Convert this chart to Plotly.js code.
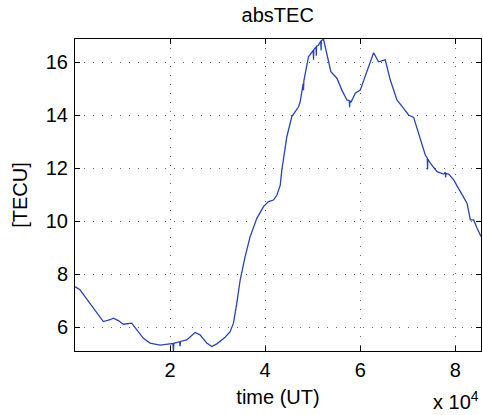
<!DOCTYPE html>
<html>
<head>
<meta charset="utf-8">
<script src="https://cdn.plot.ly/plotly-3.0.1.min.js"></script>
<style>html,body{margin:0;padding:0;background:#fff;}#chart{width:483px;height:415px;}</style>
</head>
<body>
<div id="chart"></div>
<script>
// time (UT) in seconds
const timeUT = [0, 1050, 2100, 3160, 4560, 5960, 7370, 8070, 9120, 10170, 11930, 12980, 14390, 15790, 17890, 20000, 20600, 20700, 20800, 22000, 22100, 22200, 23500, 25260, 26300, 27720, 28770, 29820, 31580, 32630, 33330, 34040, 34740, 35790, 36840, 38250, 39650, 40700, 41750, 42500, 43160, 43510, 44560, 45610, 47020, 47370, 48000, 48070, 48140, 49120, 50100, 50170, 50240, 50700, 50760, 50820, 51230, 51700, 51760, 51820, 52280, 52980, 53820, 55090, 56140, 57190, 57700, 57760, 57820, 58040, 58950, 60000, 61400, 62810, 63860, 65260, 66320, 67720, 69120, 70170, 71230, 72280, 73680, 74100, 74160, 74220, 74740, 76140, 77540, 77900, 77960, 78020, 78600, 79650, 81050, 82110, 82460, 83160, 83860, 84560, 85400];
// absolute TEC [TECU]
const absTEC = [7.53, 7.41, 7.15, 6.90, 6.53, 6.21, 6.28, 6.34, 6.25, 6.11, 6.15, 5.90, 5.58, 5.40, 5.32, 5.37, 5.38, 5.10, 5.39, 5.45, 5.28, 5.46, 5.52, 5.80, 5.71, 5.40, 5.27, 5.37, 5.62, 5.83, 6.15, 6.91, 7.78, 8.66, 9.42, 10.11, 10.55, 10.74, 10.80, 11.00, 11.35, 11.94, 13.19, 13.95, 14.32, 14.51, 15.20, 14.95, 15.30, 16.21, 16.45, 16.10, 16.48, 16.58, 16.25, 16.60, 16.65, 16.80, 16.45, 16.82, 16.87, 16.34, 15.65, 15.40, 14.95, 14.58, 14.55, 14.30, 14.56, 14.48, 14.83, 14.95, 15.65, 16.36, 16.02, 16.09, 15.33, 14.58, 14.26, 14.01, 13.92, 13.32, 12.50, 12.38, 11.95, 12.35, 12.19, 11.87, 11.78, 11.85, 11.65, 11.80, 11.78, 11.56, 11.12, 10.80, 10.68, 10.05, 10.05, 9.74, 9.42];

const xTickVals = [20000, 40000, 60000, 80000];
const xTickText = ['2', '4', '6', '8'];
const yTickVals = [6, 8, 10, 12, 14, 16];

const FAM = 'Liberation Sans, Arial, Helvetica, sans-serif';
const FS = 20;
const font = {family: FAM, color: '#000', size: FS};

const trace = {
  x: timeUT, y: absTEC, type: 'scatter', mode: 'lines',
  line: {color: '#2a43b0', width: 1.3}, hoverinfo: 'skip'
};

const layout = {
  width: 483, height: 415,
  margin: {l: 75, r: 2, t: 39, b: 64},
  paper_bgcolor: '#fff', plot_bgcolor: '#fff',
  font: font,
  showlegend: false,
  title: {text: 'absTEC', font: {family: FAM, size: FS, color: '#000'}, x: 0.575, xanchor: 'center', y: 0.963, yanchor: 'middle'},
  xaxis: {
    range: [0, 85400], tickvals: xTickVals, ticktext: xTickText,
    ticks: 'inside', ticklen: 5, tickcolor: '#000', tickwidth: 1,
    showline: true, linecolor: '#000', linewidth: 1, mirror: 'ticks',
    showgrid: true, gridcolor: '#666', gridwidth: 1, griddash: '1px,8px',
    zeroline: false, tickfont: {family: FAM, size: FS, color: '#000'},
    ticklabelstandoff: 1,
    title: {text: 'time (UT)', font: {family: FAM, size: FS, color: '#000'}, standoff: 9}
  },
  yaxis: {
    range: [5.1, 16.88], tickvals: yTickVals,
    ticks: 'inside', ticklen: 5, tickcolor: '#000', tickwidth: 1,
    showline: true, linecolor: '#000', linewidth: 1, mirror: 'ticks',
    showgrid: true, gridcolor: '#666', gridwidth: 1, griddash: '1px,8px',
    zeroline: false, tickfont: {family: FAM, size: FS, color: '#000'},
    ticklabelstandoff: 2,
    title: {text: '[TECU]', font: {family: FAM, size: FS, color: '#000'}, standoff: 12}
  },
  annotations: [{
    xref: 'paper', yref: 'paper', x: 1.0, y: -0.16, xanchor: 'right', yanchor: 'middle',
    text: 'x 10<sup>4</sup>', showarrow: false, font: {family: FAM, size: FS, color: '#000'}
  }]
};

Plotly.newPlot('chart', [trace], layout, {displayModeBar: false, staticPlot: true});
</script>
</body>
</html>
